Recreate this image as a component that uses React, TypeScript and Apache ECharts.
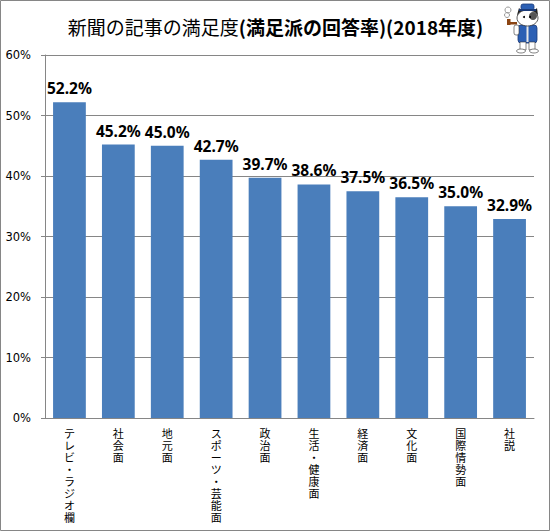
import { useEffect, useRef } from 'react'
import * as echarts from 'echarts'

const categories = [
  'テレビ・ラジオ欄',
  '社会面',
  '地元面',
  'スポーツ・芸能面',
  '政治面',
  '生活・健康面',
  '経済面',
  '文化面',
  '国際情勢面',
  '社説',
]
const satisfied = [52.2, 45.2, 45.0, 42.7, 39.7, 38.6, 37.5, 36.5, 35.0, 32.9]
const yTicks = [0, 10, 20, 30, 40, 50, 60]

const jpFont = '"Noto Sans CJK JP", sans-serif'

export default function App() {
  const chartRef = useRef<HTMLDivElement>(null)

  useEffect(() => {
    if (!chartRef.current) return
    const chart = echarts.init(chartRef.current, null, { renderer: 'svg' })

    const option: echarts.EChartsOption = {
      animation: false,
      backgroundColor: '#ffffff',
      title: {
        text: '{a|新聞の記事の満足度}{b|(満足派の回答率)(2018年度)}',
        left: 'center',
        top: 12,
        textStyle: {
          fontWeight: 'normal',
          rich: {
            a: { fontFamily: jpFont, fontSize: 19, fontWeight: 'normal', color: '#000' },
            b: { fontFamily: jpFont, fontSize: 19, fontWeight: 'bold', color: '#000' },
          },
        },
      },
      grid: {
        left: 45,
        right: 17,
        top: 55,
        bottom: 114,
      },
      xAxis: {
        type: 'category',
        data: categories,
        axisLine: { lineStyle: { color: '#868686', width: 1 } },
        axisTick: { length: 5, lineStyle: { color: '#868686' } },
        axisLabel: {
          interval: 0,
          margin: 9,
          fontFamily: jpFont,
          fontSize: 11,
          lineHeight: 12,
          color: '#000',
          verticalAlign: 'top',
          // vertical (tategaki) labels: one character per line
          formatter: (v: string) => v.split('').join('\n'),
        },
      },
      yAxis: {
        type: 'value',
        min: yTicks[0],
        max: yTicks[yTicks.length - 1],
        interval: 10,
        axisLine: { show: true, lineStyle: { color: '#868686', width: 1 } },
        axisTick: { show: true, length: 4, lineStyle: { color: '#868686' } },
        axisLabel: {
          margin: 14,
          fontFamily: 'Verdana, "DejaVu Sans", sans-serif',
          fontSize: 11.5,
          color: '#000',
          formatter: '{value}%',
        },
        splitLine: { lineStyle: { color: '#868686', width: 1 } },
      },
      series: [
        {
          type: 'bar',
          data: satisfied,
          barCategoryGap: '33%',
          itemStyle: { color: '#4A7EBB' },
          label: {
            show: true,
            position: 'top',
            distance: 6,
            fontFamily: '"Noto Sans", sans-serif',
            fontWeight: 'bold',
            fontSize: 15.5,
            color: '#000',
            formatter: (p: any) => `${p.value.toFixed(1)}%`,
          },
        },
      ],
      graphic: [
        {
          type: 'rect',
          shape: { x: 0.5, y: 0.5, width: 549, height: 530 },
          style: { fill: 'none', stroke: '#868686', lineWidth: 1 },
          silent: true,
        },
        {
          type: 'group',
          x: 502,
          y: 3,
          silent: true,
          children: [
            // smoke
            { type: 'circle', shape: { cx: 6, cy: 7, r: 3 }, style: { fill: 'none', stroke: '#999', lineWidth: 1 } },
            { type: 'circle', shape: { cx: 5, cy: 12, r: 2.5 }, style: { fill: 'none', stroke: '#999', lineWidth: 1 } },
            // pipe
            { type: 'rect', shape: { x: 6, y: 19, width: 9, height: 2.5 }, style: { fill: '#8B4513' } },
            { type: 'rect', shape: { x: 5, y: 16, width: 3.5, height: 6 }, style: { fill: '#8B4513' } },
            // body
            { type: 'rect', shape: { x: 16, y: 22, width: 19, height: 18, r: 3 }, style: { fill: '#2B5FB4', stroke: '#1a3a78', lineWidth: 0.8 } },
            { type: 'rect', shape: { x: 24.5, y: 23, width: 2, height: 16 }, style: { fill: '#e8e8e8' } },
            // arm
            { type: 'rect', shape: { x: 12, y: 22, width: 5, height: 10, r: 2 }, style: { fill: '#fff', stroke: '#333', lineWidth: 0.6 } },
            // legs
            { type: 'rect', shape: { x: 18, y: 39, width: 6, height: 8 }, style: { fill: '#fff', stroke: '#333', lineWidth: 0.6 } },
            { type: 'rect', shape: { x: 27, y: 39, width: 6, height: 8 }, style: { fill: '#fff', stroke: '#333', lineWidth: 0.6 } },
            { type: 'ellipse', shape: { cx: 19, cy: 48, rx: 4.5, ry: 2 }, style: { fill: '#fff', stroke: '#333', lineWidth: 0.6 } },
            { type: 'ellipse', shape: { cx: 32, cy: 48, rx: 4.5, ry: 2 }, style: { fill: '#fff', stroke: '#333', lineWidth: 0.6 } },
            // head
            { type: 'polygon', shape: { points: [[15, 12], [17, 5], [21, 9]] }, style: { fill: '#222' } },
            { type: 'polygon', shape: { points: [[31, 9], [35, 5], [36, 12]] }, style: { fill: '#222' } },
            { type: 'ellipse', shape: { cx: 25.5, cy: 15, rx: 10.5, ry: 8 }, style: { fill: '#fff', stroke: '#333', lineWidth: 0.8 } },
            { type: 'ellipse', shape: { cx: 31, cy: 13, rx: 4, ry: 4 }, style: { fill: '#555' } },
            { type: 'circle', shape: { cx: 22, cy: 14, r: 1 }, style: { fill: '#000' } },
            { type: 'circle', shape: { cx: 28, cy: 14, r: 1 }, style: { fill: '#000' } },
            // hat
            { type: 'rect', shape: { x: 19, y: 1, width: 13, height: 6, r: 2 }, style: { fill: '#2B5FB4', stroke: '#1a3a78', lineWidth: 0.8 } },
            { type: 'rect', shape: { x: 17, y: 6, width: 17, height: 2 }, style: { fill: '#1a3a78' } },
          ],
        },
      ],
    }

    chart.setOption(option)
    return () => {
      chart.dispose()
    }
  }, [])

  return (
    <div
      ref={chartRef}
      style={{ position: 'absolute', left: 0, top: 0, width: 551, height: 532 }}
    />
  )
}
